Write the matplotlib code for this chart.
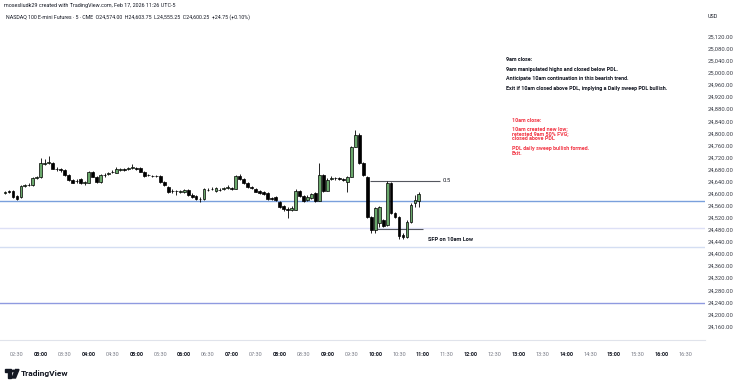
import pandas as pd
import matplotlib.pyplot as plt
from matplotlib.patches import Rectangle, Circle, Polygon

plt.rcParams['font.family'] = ['Roboto', 'DejaVu Sans']

# NQ 5 min bars, first bar at 02:15
start = "2026-02-17 02:15"
opens = [24602, 24607.5, 24610, 24591, 24588, 24625, 24627.5, 24627.5, 24651.5, 24655,
         24699, 24703, 24703, 24683, 24681.5, 24679, 24662, 24646, 24643, 24647.5,
         24636, 24636, 24672.5, 24656, 24637, 24660.5, 24666, 24670.5, 24669, 24679,
         24681.5, 24681.5, 24686, 24685, 24683.5, 24672.5, 24660.5, 24659.5, 24658, 24658,
         24639.5, 24623, 24610, 24607.5, 24605, 24606.5, 24612, 24596.5, 24592, 24581,
         24581, 24613, 24614, 24607.5, 24613, 24615, 24618.5, 24618.5, 24616, 24659.5,
         24649.5, 24636, 24621, 24615, 24610, 24605, 24601, 24585.5, 24589, 24573.5,
         24559, 24549, 24546, 24547, 24608.5, 24592, 24579, 24584, 24602, 24577,
         24662, 24610, 24648.5, 24652, 24650.5, 24648.5, 24639.5, 24656, 24755.5, 24794,
         24700, 24656, 24523.5, 24479.5, 24501.5, 24512.5, 24496, 24636, 24535, 24523.5,
         24463, 24457, 24507, 24568, 24574]
highs = [24607.5, 24611, 24613, 24594, 24628.5, 24632, 24634, 24654, 24659.5, 24717,
         24713.5, 24725, 24706, 24689, 24686, 24683, 24665, 24649.5, 24647.5, 24651,
         24643, 24676, 24676, 24659.5, 24665, 24669, 24672.5, 24678, 24687, 24684.5,
         24684.5, 24688, 24697, 24689, 24687, 24676, 24666, 24663, 24663, 24661.5,
         24643, 24626, 24614, 24613, 24611, 24615, 24615, 24601, 24596.5, 24588,
         24617.5, 24618.5, 24621, 24621, 24617.5, 24622, 24627.5, 24623, 24663, 24664,
         24653, 24639.5, 24625, 24618.5, 24613, 24610, 24604, 24590, 24592, 24577,
         24562, 24554.5, 24559, 24614, 24612, 24595, 24594, 24602, 24605, 24700,
         24665, 24650.5, 24658, 24656, 24654, 24653, 24658, 24759, 24811, 24800,
         24704, 24659.5, 24527, 24554.5, 24560, 24517, 24643, 24638.5, 24539.5, 24527,
         24468, 24512.5, 24568, 24595.5, 24603.75]
lows = [24599, 24602, 24586, 24579, 24586, 24622, 24624, 24625, 24649.5, 24653,
        24696, 24699, 24680, 24676, 24673, 24659.5, 24643, 24634, 24636, 24632,
        24628.5, 24634, 24654, 24634, 24635, 24656, 24663, 24667, 24667, 24676,
        24676, 24678, 24682.5, 24679, 24670.5, 24656, 24657, 24654, 24655, 24636,
        24625, 24603, 24603, 24595, 24602, 24603, 24591, 24586, 24579, 24571.5,
        24578, 24607.5, 24611, 24605, 24607.5, 24613, 24616, 24612, 24614, 24645,
        24631, 24619.5, 24614, 24604, 24599, 24595, 24580, 24579, 24574.5, 24553,
        24543.5, 24518, 24541.5, 24545, 24589, 24573.5, 24575.5, 24581, 24573.5, 24574.5,
        24605, 24607.5, 24645, 24646, 24644, 24643, 24606.5, 24654, 24753, 24697,
        24658, 24518, 24468, 24470.5, 24490.5, 24488, 24492.5, 24532.5, 24518, 24451,
        24448, 24454, 24503.5, 24554.5, 24555.25]
closes = [24604, 24605, 24588, 24583, 24625, 24627.5, 24630, 24650.5, 24655, 24700,
          24703, 24705, 24683, 24680, 24679, 24662, 24645, 24636, 24640.5, 24634,
          24638.5, 24672.5, 24656, 24637, 24662, 24663, 24668, 24672.5, 24680, 24681.5,
          24679, 24683.5, 24688, 24683, 24672.5, 24658, 24663, 24657, 24659.5, 24639.5,
          24627.5, 24606.5, 24607.5, 24610, 24607.5, 24612, 24594, 24588, 24583, 24583,
          24614, 24611, 24616, 24617.5, 24611, 24617.5, 24621, 24616, 24658, 24647.5,
          24634, 24623, 24618.5, 24606.5, 24602, 24599, 24583, 24583, 24579, 24557,
          24548, 24547, 24553, 24610, 24592, 24577, 24590, 24598.5, 24577, 24662,
          24608.5, 24645, 24652, 24650.5, 24647.5, 24646, 24654, 24755.5, 24794, 24700,
          24662, 24523.5, 24479.5, 24551, 24555, 24492.5, 24634, 24536, 24523.5, 24459.5,
          24456, 24507, 24562.5, 24579, 24600.25]

level_prices = [24576, 24486, 24424, 24238]
level_colors = ['#7aa0dc', '#dde0f6', '#d4def2', '#8f9ae0']
fvg_half = 24642
sfp_low = 24481

price_ticks = list(range(24160, 25121, 40))

bar_times = pd.date_range(start, periods=len(opens), freq="5min")
x = (bar_times.hour * 60 + bar_times.minute).to_numpy()

W, H = 740, 386
fig = plt.figure(figsize=(W / 100, H / 100), dpi=100)
fig.patch.set_facecolor('white')
ax = fig.add_axes([0, (H - 340) / H, 705 / W, 312 / H])

# candles
ax.vlines(x, lows, highs, color='black', lw=0.6, zorder=3)
for xi, o, c in zip(x, opens, closes):
    bottom = min(o, c)
    height = max(abs(c - o), 1.0)
    face = '#6aa86c' if c >= o else 'black'
    ax.bar(xi, height, bottom=bottom, width=3.6, color=face,
           edgecolor='black', linewidth=0.5, zorder=4)

# levels
for p, col in zip(level_prices, level_colors):
    ax.axhline(p, color=col, lw=1.0, zorder=2)
ax.hlines(fvg_half, 593, 681, color='#55575f', lw=0.8, zorder=2)
ax.text(685, fvg_half, '0.5', fontsize=4.2, va='center', ha='left', color='#131722')
ax.hlines(sfp_low, 602, 660, color='#55575f', lw=0.8, zorder=2)
ax.text(666, 24449, 'SFP on 10am Low', fontsize=4.1, fontweight='bold',
        va='center', ha='left', color='#131722')

# notes
black_notes = ["9am close:",
               "9am manipulated highs and closed below PDL.",
               "Anticipate 10am continuation in this bearish trend.",
               "Exit if 10am closed above PDL, implying a Daily sweep PDL bullish."]
for txt, yp in zip(black_notes, [25043, 25011, 24980, 24948]):
    ax.text(765, yp, txt, fontsize=3.9, fontweight='bold', va='center',
            ha='left', color='#131722')
red_notes = ["10am close:", "10am created new low;", "retested 9am 50% FVG;",
             "closed above PDL", "PDL daily sweep bullish formed.", "Exit."]
for txt, yp in zip(red_notes, [24842, 24814, 24797.5, 24781, 24749, 24732]):
    ax.text(772, yp, txt, fontsize=3.9, fontweight='bold', va='center',
            ha='left', color='#f23645')

ax.set_xlim(128.7, 1014.4)
ax.set_ylim(24114.7, 25148.8)
for s in ['top', 'left', 'right']:
    ax.spines[s].set_visible(False)
ax.spines['bottom'].set_color('#e0e3eb')
ax.spines['bottom'].set_linewidth(0.8)

# time axis
tick_min = list(range(150, 991, 30))
ax.set_xticks(tick_min)
ax.set_xticklabels(['%02d:%02d' % (m // 60, m % 60) for m in tick_min])
ax.tick_params(axis='x', length=0, pad=8.5, labelsize=4.0)
for lab, m in zip(ax.get_xticklabels(), tick_min):
    if m % 60 == 0:
        lab.set_fontweight('bold')
        lab.set_color('#131722')
    else:
        lab.set_color('#787b86')

# price axis
ax.yaxis.tick_right()
ax.set_yticks(price_ticks)
ax.set_yticklabels(['{:,.2f}'.format(p) for p in price_ticks])
ax.tick_params(axis='y', length=0, pad=2.2, labelsize=4.2, labelcolor='#3b3e48')

# header
fig.text(4 / W, 1 - 6 / H, 'mosesliudk29 created with TradingView.com, Feb 17, 2026 11:26 UTC-5',
         fontsize=3.9, va='center', ha='left', color='#131722')
fig.text(6 / W, 1 - 17 / H,
         'NASDAQ 100 E-mini Futures \u00b7 5 \u00b7 CME  O24,574.00  H24,603.75  L24,555.25  C24,600.25  +24.75 (+0.10%)',
         fontsize=3.8, va='center', ha='left', color='#131722')
fig.text(708 / W, 1 - 17 / H, 'USD', fontsize=3.9, va='center', ha='left', color='#131722')

# TradingView logo
def fx(px):
    return px / W

def fy(py):
    return 1 - py / H

fig.patches.append(Rectangle((fx(5), fy(372)), fx(6), 3 / H, transform=fig.transFigure,
                             color='#131722', figure=fig))
fig.patches.append(Rectangle((fx(8), fy(378)), fx(3), 8 / H, transform=fig.transFigure,
                             color='#131722', figure=fig))
fig.patches.append(Circle((fx(13.5), fy(371)), 1.4 / W, transform=fig.transFigure,
                          color='#131722', figure=fig))
fig.patches.append(Polygon([(fx(12), fy(378)), (fx(15.5), fy(369.5)), (fx(19), fy(369.5)),
                            (fx(15.5), fy(378))], closed=True, transform=fig.transFigure,
                           color='#131722', figure=fig))
fig.text(fx(21), fy(373.5), 'TradingView', fontsize=6, fontweight='bold',
         va='center', ha='left', color='#131722')

fig.savefig('out.png', dpi=100)
